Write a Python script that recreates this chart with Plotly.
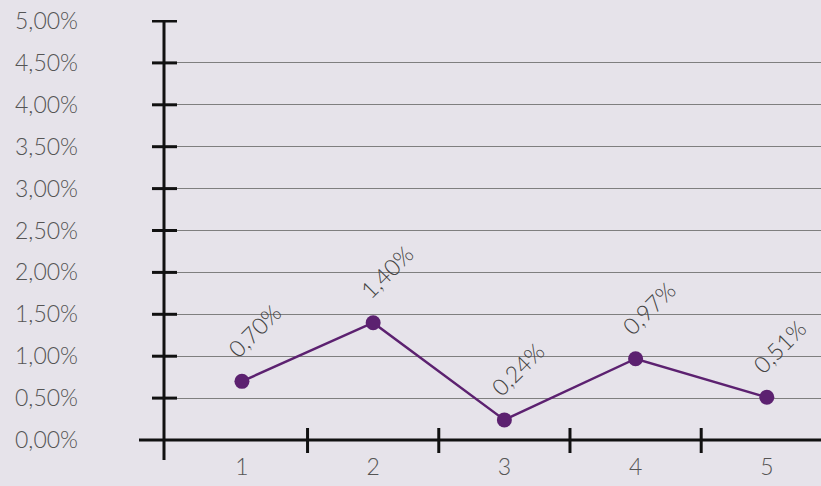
import plotly.graph_objects as go

# Series data
categories = [1, 2, 3, 4, 5]
values = [0.70, 1.40, 0.24, 0.97, 0.51]          # percent
value_labels = ["0,70%", "1,40%", "0,24%", "0,97%", "0,51%"]

y_tick_values = [0.0, 0.5, 1.0, 1.5, 2.0, 2.5, 3.0, 3.5, 4.0, 4.5, 5.0]
y_tick_labels = ["0,00%", "0,50%", "1,00%", "1,50%", "2,00%", "2,50%",
                 "3,00%", "3,50%", "4,00%", "4,50%", "5,00%"]

BG = "#e6e3ea"
PURPLE = "#5c2170"
TICK_GREY = "#555555"
LABEL_GREY = "#444444"
AXIS = "#111111"
FONT = "Lato"

fig = go.Figure()

fig.add_trace(go.Scatter(
    x=categories, y=values, mode="lines+markers",
    line=dict(color=PURPLE, width=2.5),
    marker=dict(color=PURPLE, size=15),
    hoverinfo="skip", showlegend=False,
))

# rotated value labels above each point
for c, v, t in zip(categories, values, value_labels):
    fig.add_annotation(
        x=c, y=v, text=t, showarrow=False, textangle=-45,
        xshift=13, yshift=51,
        font=dict(family=FONT, size=23, color=LABEL_GREY, weight=300),
    )

shapes = []
# vertical axis line (runs below the zero line)
shapes.append(dict(type="line", xref="paper", yref="paper", x0=0, x1=0, y0=0, y1=1,
                   line=dict(color=AXIS, width=3), layer="above"))
# horizontal axis line at zero (extends left past the vertical axis)
shapes.append(dict(type="line", xref="paper", yref="y", xsizemode="pixel", xanchor=0,
                   x0=-25, x1=700, y0=0, y1=0,
                   line=dict(color=AXIS, width=3), layer="above"))
# crossing tick marks on the vertical axis
for v in y_tick_values[1:]:
    shapes.append(dict(type="line", xref="paper", yref="y", xsizemode="pixel", xanchor=0,
                       x0=-12, x1=13, y0=v, y1=v,
                       line=dict(color=AXIS, width=3), layer="above"))
# crossing tick marks between categories
for b in [c + 0.5 for c in categories[:-1]]:
    shapes.append(dict(type="line", xref="x", yref="y", ysizemode="pixel", yanchor=0,
                       x0=b, x1=b, y0=-13, y1=12,
                       line=dict(color=AXIS, width=3), layer="above"))

fig.update_layout(
    width=821, height=486,
    margin=dict(l=164, r=0, t=20, b=26),
    paper_bgcolor=BG, plot_bgcolor=BG,
    shapes=shapes,
    xaxis=dict(
        range=[0.406, 5.413], tickvals=categories, ticktext=[str(c) for c in categories],
        showgrid=False, zeroline=False, showline=False, ticks="",
        tickfont=dict(family=FONT, size=23, color=TICK_GREY, weight=300),
        ticklabelstandoff=-9,
    ),
    yaxis=dict(
        range=[-0.2387, 5.0119], tickvals=y_tick_values, ticktext=y_tick_labels,
        showgrid=True, gridcolor="#7f7f7f", gridwidth=1,
        zeroline=False, showline=False, ticks="",
        tickfont=dict(family=FONT, size=23, color=TICK_GREY, weight=300),
        ticklabelstandoff=85,
    ),
)

fig.write_html("out.html")
